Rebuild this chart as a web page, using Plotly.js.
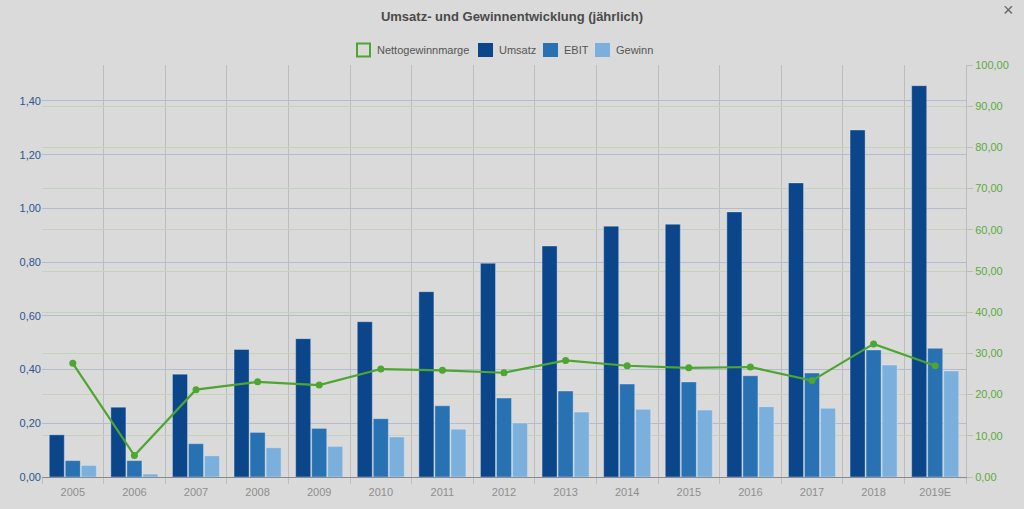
<!DOCTYPE html>
<html>
<head>
<meta charset="utf-8">
<script src="https://cdn.plot.ly/plotly-3.0.1.min.js"></script>
<style>html,body{margin:0;padding:0;background:#dadada;}#chart{width:1024px;height:509px;}</style>
</head>
<body>
<div id="chart"></div>
<script>
var years = ["2005","2006","2007","2008","2009","2010","2011","2012","2013","2014","2015","2016","2017","2018","2019E"];
var umsatz = [0.157, 0.260, 0.383, 0.475, 0.515, 0.578, 0.690, 0.796, 0.860, 0.934, 0.941, 0.987, 1.095, 1.292, 1.457];
var ebit   = [0.061, 0.061, 0.124, 0.166, 0.181, 0.217, 0.265, 0.294, 0.320, 0.346, 0.354, 0.377, 0.387, 0.473, 0.479];
var gewinn = [0.043, 0.011, 0.079, 0.109, 0.114, 0.149, 0.178, 0.201, 0.242, 0.252, 0.249, 0.262, 0.256, 0.417, 0.395];
var marge  = [27.6, 5.2, 21.2, 23.1, 22.3, 26.2, 25.9, 25.3, 28.3, 27.0, 26.5, 26.7, 23.4, 32.3, 27.0];
var seriesNames = ["Nettogewinnmarge", "Umsatz", "EBIT", "Gewinn"];

var cUmsatz = "#0b468b", cEbit = "#2871b2", cGewinn = "#7bb0dd", cMarge = "#4ca62f";
var barLine = {color: "rgba(235,240,248,0.6)", width: 0.6};

var data = [
  {type: "bar", name: seriesNames[1], x: years, y: umsatz, marker: {color: cUmsatz, line: barLine}},
  {type: "bar", name: seriesNames[2], x: years, y: ebit, marker: {color: cEbit, line: barLine}},
  {type: "bar", name: seriesNames[3], x: years, y: gewinn, marker: {color: cGewinn, line: barLine}},
  {type: "scatter", mode: "lines+markers", name: seriesNames[0], x: years, y: marge, yaxis: "y2",
   line: {color: cMarge, width: 2.2}, marker: {color: cMarge, size: 7}}
];

// compact legend (Highcharts style) drawn with shapes + text
var L = 42, R = 966, T = 65, B = 477;
function px(x) { return (x - L) / (R - L); }
function py(y) { return (B - y) / (B - T); }
var legendStarts = [356, 478, 543, 595];
var legendColors = [null, cUmsatz, cEbit, cGewinn];
var shapes = [], annotations = [];
for (var i = 0; i < seriesNames.length; i++) {
  var x0 = legendStarts[i];
  if (i === 0) {
    shapes.push({type: "rect", xref: "paper", yref: "paper", x0: px(x0 + 1), x1: px(x0 + 14), y0: py(56.5), y1: py(43.5),
                 line: {color: cMarge, width: 2}, fillcolor: "rgba(0,0,0,0)"});
  } else {
    shapes.push({type: "rect", xref: "paper", yref: "paper", x0: px(x0), x1: px(x0 + 15), y0: py(57), y1: py(43),
                 line: {width: 0}, fillcolor: legendColors[i]});
  }
  annotations.push({text: seriesNames[i], xref: "paper", yref: "paper", x: px(x0 + 19), y: py(50),
                    xanchor: "left", yanchor: "middle", showarrow: false, font: {size: 11, color: "#555"}});
}
annotations.push({text: "×", xref: "paper", yref: "paper", x: px(1008), y: py(10), showarrow: false,
                  font: {size: 18, color: "#666"}, xanchor: "center", yanchor: "middle"});

var layout = {
  width: 1024, height: 509,
  paper_bgcolor: "#dadada", plot_bgcolor: "#dadada",
  font: {family: "Liberation Sans, Arial, sans-serif", size: 11, color: "#555"},
  separators: ",.",
  margin: {l: 42, r: 58, t: 65, b: 32},
  title: {text: "<b>Umsatz- und Gewinnentwicklung (jährlich)</b>", font: {size: 13, color: "#4a4a4a"},
          x: 0.5, xanchor: "center", y: 0.968, yanchor: "middle", yref: "container"},
  barmode: "group", bargap: 0.22, bargroupgap: 0.06,
  showlegend: false,
  xaxis: {type: "category", range: [-0.5, 14.5], tickson: "boundaries", showgrid: true, gridcolor: "#bdbdbd", gridwidth: 1,
          showline: true, linecolor: "#8a8a8a", linewidth: 1.2, ticks: "outside", ticklen: 6, tickcolor: "#bdbdbd",
          ticklabelstandoff: 5, tickfont: {size: 11, color: "#8e8e8e"}, zeroline: false, fixedrange: true},
  yaxis: {range: [0, 1.534], dtick: 0.2, tick0: 0, tickformat: ".2f", showgrid: true, gridcolor: "#b3bccc",
          gridwidth: 1, zeroline: false, showline: false, ticks: "", tickfont: {size: 11, color: "#2b5690"}},
  yaxis2: {range: [0, 100], dtick: 10, tick0: 0, tickformat: ".2f", overlaying: "y", side: "right",
           showgrid: true, gridcolor: "#c4d3b8", gridwidth: 1, zeroline: false, showline: true,
           linecolor: "#bdbdbd", linewidth: 1, ticks: "outside", ticklen: 6, tickcolor: "#bdbdbd",
           tickfont: {size: 11, color: "#5aab3a"}},
  shapes: shapes,
  annotations: annotations
};

Plotly.newPlot("chart", data, layout, {displayModeBar: false, staticPlot: true});
</script>
</body>
</html>
